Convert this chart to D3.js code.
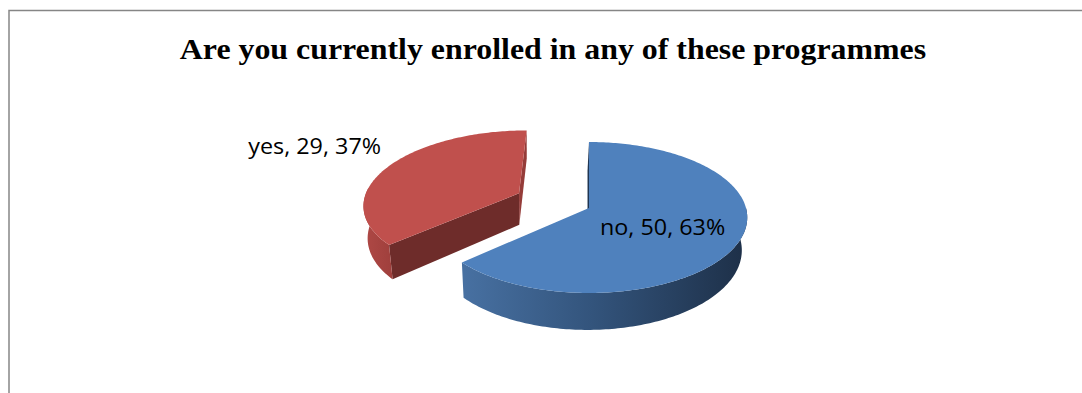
<!DOCTYPE html>
<html>
<head>
<meta charset="utf-8">
<script src="https://cdn.jsdelivr.net/npm/d3@7/dist/d3.min.js"></script>
<style>
  body { margin: 0; background: #fff; }
</style>
</head>
<body>
<div id="chart"></div>
<script>
const title = "Are you currently enrolled in any of these programmes";
const categories = ["no", "yes"];
const counts = [50, 29];
const percents = ["63%", "37%"];
const explode = [0, 0.5];

const w = 1082;
const h = 393;

// fake 3d pie: a plane homography for the top face, plus an extruded side
const view = { cx: 589, cy: 208, a: 48.1, c: -0.1258, d: 157, depth: 32.3, eyeX: 530, skew: 0.025 };

const proj = (u, v) => {
    const k = 1 + view.c * v;
    return [view.cx + view.d * u / k, (view.a * v + view.cy) / k];
};
const under = (u, v) => {
    const k = 1 + view.c * v;
    const [x, y] = proj(u, v);
    return [x + (view.eyeX - x) * view.skew, y + view.depth / k];
};

// the source picture is a little wider than tall, so text gets stretched
const stretchText = (sel, factor) => {
    const len = sel.node().getComputedTextLength();
    sel.attr("textLength", len * factor).attr("lengthAdjust", "spacingAndGlyphs");
};

const pie = d3.pie().sort(null).value(d => d)(counts);

const svg = d3.select("#chart")
    .append("svg")
    .attr("width", w)
    .attr("height", h);

// chart frame (cut off at right and bottom)
svg.append("rect")
    .attr("x", 9)
    .attr("y", 10.5)
    .attr("width", w + 20)
    .attr("height", h + 20)
    .attr("fill", "none")
    .attr("stroke", "#868686")
    .attr("stroke-width", 1.5);

const titleText = svg.append("text")
    .attr("x", 553)
    .attr("y", 59)
    .attr("text-anchor", "middle")
    .style("font-family", "'Liberation Serif', 'Times New Roman', serif")
    .style("font-weight", "bold")
    .style("font-size", "28.5px")
    .text(title);
stretchText(titleText, 1.118);

const defs = svg.append("defs");
const blueSide = defs.append("linearGradient")
    .attr("id", "blueSide")
    .attr("gradientUnits", "userSpaceOnUse")
    .attr("x1", 465).attr("x2", 748).attr("y1", 0).attr("y2", 0);
blueSide.append("stop").attr("offset", 0).attr("stop-color", "#4770a1");
blueSide.append("stop").attr("offset", 0.45).attr("stop-color", "#33547c");
blueSide.append("stop").attr("offset", 1).attr("stop-color", "#1d2f47");

const redSide = defs.append("linearGradient")
    .attr("id", "redSide")
    .attr("gradientUnits", "userSpaceOnUse")
    .attr("x1", 362).attr("x2", 400).attr("y1", 0).attr("y2", 0);
redSide.append("stop").attr("offset", 0).attr("stop-color", "#b04946");
redSide.append("stop").attr("offset", 1).attr("stop-color", "#9b3d3a");

const style = [
    { top: "#4f81bd", side: "url(#blueSide)", face: "#1f3552" },
    { top: "#c0504d", side: "url(#redSide)", face: "#6e2c2a", face2: "#953c39" }
];

const line = d3.line();
const step = Math.PI / 180;

// back slices first
const order = d3.range(pie.length).sort((p, q) => explode[q] - explode[p]);

order.forEach(i => {
    const s = pie[i];
    const mid = (s.startAngle + s.endAngle) / 2;
    const ou = Math.sin(mid) * explode[i];
    const ov = -Math.cos(mid) * explode[i];
    const rim = t => [ou + Math.sin(t), ov - Math.cos(t)];
    const g = svg.append("g");
    const faces = [];

    // curved outer side, front half only
    const a0 = Math.max(s.startAngle, Math.PI / 2);
    const a1 = Math.min(s.endAngle, Math.PI * 1.5 + 0.08);
    if (a1 > a0) {
        const ts = d3.range(a0, a1, step).concat([a1]);
        const pts = ts.map(t => proj(...rim(t))).concat(ts.slice().reverse().map(t => under(...rim(t))));
        faces.push({ key: 1, d: line(pts) + "Z", fill: style[i].side });
    }

    // flat cut faces
    [[s.startAngle, -1], [s.endAngle, 1]].forEach(([t, dir]) => {
        const nv = dir * Math.sin(t);
        if (nv < -0.05) return;
        const r = rim(t);
        const pts = [proj(ou, ov), proj(...r), under(...r), under(ou, ov)];
        const fill = nv > 0.3 ? style[i].face : (style[i].face2 || style[i].face);
        faces.push({ key: (ov + r[1]) / 2, d: line(pts) + "Z", fill });
    });

    faces.sort((p, q) => p.key - q.key).forEach(f => {
        g.append("path").attr("d", f.d).attr("fill", f.fill);
    });

    const ts = d3.range(s.startAngle, s.endAngle, step).concat([s.endAngle]);
    const top = [proj(ou, ov)].concat(ts.map(t => proj(...rim(t))));
    g.append("path").attr("d", line(top) + "Z").attr("fill", style[i].top);
});

// data labels: "category, value, percent"
const labelFont = "'Open Sans', 'Noto Sans', sans-serif";
pie.forEach((s, i) => {
    const mid = (s.startAngle + s.endAngle) / 2;
    const ou = Math.sin(mid) * explode[i];
    const ov = -Math.cos(mid) * explode[i];
    const label = `${categories[i]}, ${counts[i]}, ${percents[i]}`;
    let x, y, anchor;
    if (explode[i] === 0) {
        [x, y] = proj(ou + Math.sin(mid) * 0.5, ov - Math.cos(mid) * 0.5);
        y += 3;
        anchor = "middle";
    } else {
        [x, y] = proj(ou + Math.sin(mid), ov - Math.cos(mid));
        x -= 8;
        y -= 21;
        anchor = "end";
    }
    const t = svg.append("text")
        .attr("x", x)
        .attr("y", y)
        .attr("text-anchor", anchor)
        .attr("dominant-baseline", "central")
        .style("font-family", labelFont)
        .style("font-size", "21.5px")
        .style("fill", "#000")
        .text(label);
    stretchText(t, 1.085);
});
</script>
</body>
</html>
